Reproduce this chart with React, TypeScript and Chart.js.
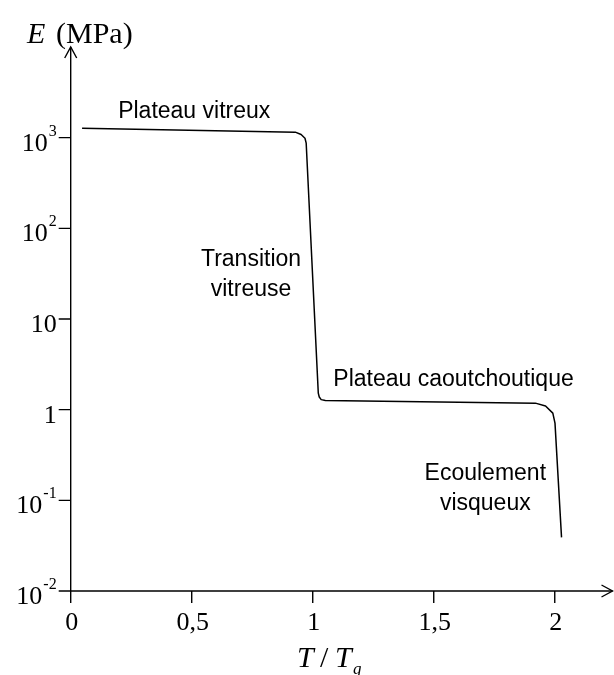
import React, { useEffect, useRef } from "react";
import { Chart, registerables } from "chart.js";

Chart.register(...registerables);

// T / Tg values along the curve
const T_VALUES = [0.047, 0.928, 0.952, 0.968, 0.973, 1.023, 1.027, 1.035, 1.052, 1.92, 1.962, 1.992, 2.001, 2.028];
// Modulus E (MPa) at each T / Tg
const E_VALUES = [1273, 1151, 1084, 986, 869, 1.52, 1.38, 1.29, 1.26, 1.18, 1.1, 0.916, 0.711, 0.039];

const X_TICKS = [0, 0.5, 1, 1.5, 2];
const X_TICK_LABELS = ["0", "0,5", "1", "1,5", "2"];
const Y_TICKS = [0.01, 0.1, 1, 10, 100, 1000];
const Y_TICK_BASES = ["10", "10", "1", "10", "10", "10"];
const Y_TICK_EXPONENTS = ["-2", "-1", "", "", "2", "3"];

const ANNOTATION_TEXTS = [["Plateau vitreux"], ["Transition", "vitreuse"], ["Plateau caoutchoutique"], ["Ecoulement", "visqueux"]];
const ANNOTATION_T = [0.196, 0.745, 1.085, 1.713];
const ANNOTATION_E = [1641, 38.3, 1.82, 0.1675];
const ANNOTATION_ALIGN: CanvasTextAlign[] = ["left", "center", "left", "center"];

const X_MIN = 0;
const X_MAX = 2.2386;
const Y_MIN = 0.01;
const Y_MAX = 10000;

const SERIF = '"Liberation Serif", "Times New Roman", serif';
const SANS = '"Liberation Sans", Arial, sans-serif';

const axesPlugin = {
  id: "customAxes",
  afterDraw(chart: any) {
    const ctx: CanvasRenderingContext2D = chart.ctx;
    const xs = chart.scales.x;
    const ys = chart.scales.y;
    const area = chart.chartArea;
    const x0 = xs.getPixelForValue(0);
    const yb = ys.getPixelForValue(Y_MIN);
    const tick = 12;
    ctx.save();
    ctx.strokeStyle = "#000";
    ctx.fillStyle = "#000";
    ctx.lineWidth = 1.4;
    ctx.lineCap = "butt";
    // axes
    ctx.beginPath();
    ctx.moveTo(x0, yb);
    ctx.lineTo(x0, area.top);
    ctx.moveTo(x0, yb);
    ctx.lineTo(area.right, yb);
    ctx.stroke();
    // arrows
    ctx.beginPath();
    ctx.moveTo(x0 - 6, area.top + 11);
    ctx.lineTo(x0, area.top);
    ctx.lineTo(x0 + 6, area.top + 11);
    ctx.moveTo(area.right - 11, yb - 6);
    ctx.lineTo(area.right, yb);
    ctx.lineTo(area.right - 11, yb + 6);
    ctx.stroke();
    // ticks
    ctx.beginPath();
    X_TICKS.forEach((v) => {
      const px = xs.getPixelForValue(v);
      ctx.moveTo(px, yb);
      ctx.lineTo(px, yb + tick);
    });
    Y_TICKS.forEach((v) => {
      const py = ys.getPixelForValue(v);
      ctx.moveTo(x0 - tick, py);
      ctx.lineTo(x0, py);
    });
    ctx.stroke();
    // x tick labels
    ctx.font = `26px ${SERIF}`;
    ctx.textAlign = "center";
    ctx.textBaseline = "alphabetic";
    X_TICKS.forEach((v, i) => {
      const px = xs.getPixelForValue(v);
      ctx.fillText(X_TICK_LABELS[i], px + 1, yb + 39);
    });
    // y tick labels
    const right = x0 - 14;
    Y_TICKS.forEach((v, i) => {
      const py = ys.getPixelForValue(v);
      const base = Y_TICK_BASES[i];
      const exp = Y_TICK_EXPONENTS[i];
      ctx.textAlign = "right";
      if (exp) {
        ctx.font = `16px ${SERIF}`;
        const ew = ctx.measureText(exp).width;
        ctx.fillText(exp, right, py - 2);
        ctx.font = `26px ${SERIF}`;
        ctx.fillText(base, right - ew - 1, py + 13);
      } else {
        ctx.font = `26px ${SERIF}`;
        ctx.fillText(base, right, py + 13);
      }
    });
    // y title: E (MPa)
    ctx.textAlign = "left";
    ctx.font = `italic 30px ${SERIF}`;
    ctx.fillText("E", 27, 43);
    ctx.font = `30px ${SERIF}`;
    ctx.fillText("(MPa)", 56, 43);
    // x title: T / Tg
    ctx.font = `italic 30px ${SERIF}`;
    ctx.fillText("T", 297, 667);
    ctx.font = `30px ${SERIF}`;
    ctx.fillText("/", 320, 667);
    ctx.font = `italic 30px ${SERIF}`;
    ctx.fillText("T", 335, 667);
    ctx.font = `italic 17px ${SERIF}`;
    ctx.fillText("g", 353, 674);
    // annotations
    ctx.font = `23px ${SANS}`;
    ANNOTATION_TEXTS.forEach((lines, i) => {
      const px = xs.getPixelForValue(ANNOTATION_T[i]);
      const py = ys.getPixelForValue(ANNOTATION_E[i]);
      ctx.textAlign = ANNOTATION_ALIGN[i];
      lines.forEach((line, j) => {
        ctx.fillText(line, px, py + j * 29.5);
      });
    });
    ctx.restore();
  },
};

export default function App() {
  const ref = useRef<HTMLCanvasElement | null>(null);
  useEffect(() => {
    if (!ref.current) return;
    const chart = new Chart(ref.current, {
      type: "line",
      data: {
        datasets: [
          {
            data: T_VALUES.map((t, i) => ({ x: t, y: E_VALUES[i] })),
            borderColor: "#000",
            borderWidth: 1.5,
            pointRadius: 0,
            fill: false,
            tension: 0,
            borderJoinStyle: "round",
          },
        ],
      },
      options: {
        responsive: false,
        animation: false,
        devicePixelRatio: 1,
        layout: { padding: { left: 70.7, right: 1.5, top: 47, bottom: 84 } },
        plugins: { legend: { display: false }, tooltip: { enabled: false } },
        scales: {
          x: { type: "linear", min: X_MIN, max: X_MAX, display: false },
          y: { type: "logarithmic", min: Y_MIN, max: Y_MAX, display: false },
        },
      },
      plugins: [axesPlugin],
    } as any);
    return () => chart.destroy();
  }, []);
  return (
    <div style={{ position: "absolute", left: 0, top: 0, width: 614, height: 675, background: "#fff" }}>
      <canvas ref={ref} width={614} height={675} style={{ display: "block" }} />
    </div>
  );
}
